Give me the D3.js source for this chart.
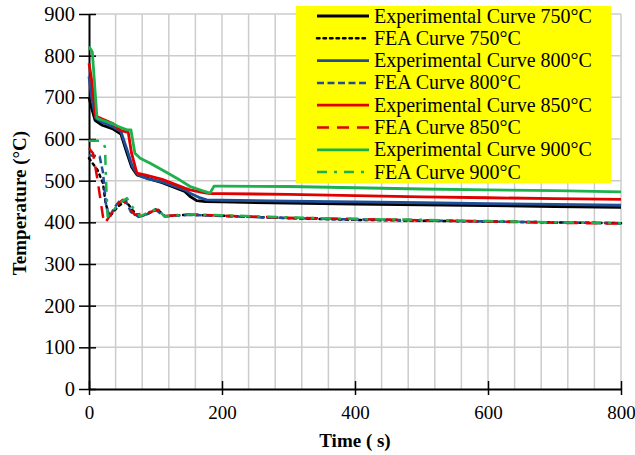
<!DOCTYPE html>
<html>
<head>
<meta charset="utf-8">
<script src="https://cdn.jsdelivr.net/npm/d3@7"></script>
<style>
body { margin: 0; background: #fff; }
text { font-family: "Liberation Serif", "Times New Roman", serif; }
</style>
</head>
<body>
<script>
var width = 635;
var height = 455;

// data (time in s, temperature in °C)
var tExp750 = [0,4,9,20,35,48,57,64,72,87,110,144,152,162,175,200,300,400,500,600,700,800];
var vExp750 = [700,674,645,633,625,612,566,533,514,506,495,474,462,452,450,449,446,444,442,440,438,436];

var tExp800 = [0,4,10,20,35,48,58,65,73,87,110,144,152,165,177,200,300,400,500,600,700,800];
var vExp800 = [750,700,650,640,630,618,570,535,515,505,497,478,470,460,454,453,451,449,447,445,443,441];

var tExp850 = [0,4,10,20,35,48,59,64,72,84,110,144,152,170,182,200,300,400,500,600,700,800];
var vExp850 = [782,742,655,648,638,620,616,566,518,514,503,482,478,472,469,469,467,464,461,459,457,455];

var tExp900 = [0,5,12,20,35,44,57,63,69,77,92,119,132,152,170,182,188,200,300,400,500,600,700,800];
var vExp900 = [822,809,650,645,637,630,622,622,566,554,542,518,506,486,476,470,487,487,486,483,480,478,476,473];

var tFea750 = [0,13,21,25,31,38,45,55,65,75,88,102,114,125,150,200,300,400,500,600,700,800];
var vFea750 = [554,525,494,446,413,428,440,452,430,413,420,432,415,416,418,416,410,406,404,402,400,398];

var tFea800 = [0,16,21,26,31,38,47,55,63,75,88,100,114,125,150,200,300,400,500,600,700,800];
var vFea800 = [561,558,520,437,413,435,453,452,425,413,420,430,414,416,418,415,410,407,405,402,400,398];

var tFea850 = [0,6,13,21,24,34,44,51,60,69,85,104,118,130,150,200,300,400,500,600,700,800];
var vFea850 = [578,566,500,414,398,422,445,454,435,418,422,430,415,417,419,416,411,408,405,402,399,397];

var tFea900 = [0,16,21,24,26,28,35,45,57,66,77,90,102,114,130,150,200,300,400,500,600,700,800];
var vFea900 = [596,596,590,581,486,414,425,445,458,435,414,425,432,414,416,419,417,412,408,406,403,400,398];

var xTicks = [0,200,400,600,800];
var yTicks = [0,100,200,300,400,500,600,700,800,900];

var series = [
  {name:"FEA Curve 750°C", t:tFea750, v:vFea750, color:"#000000", dash:"2.5,4", w:2.5, cap:"round"},
  {name:"FEA Curve 800°C", t:tFea800, v:vFea800, color:"#1f4e99", dash:"7,3.5", w:2.5, cap:"butt"},
  {name:"FEA Curve 850°C", t:tFea850, v:vFea850, color:"#e00000", dash:"12,8", w:2.5, cap:"butt"},
  {name:"FEA Curve 900°C", t:tFea900, v:vFea900, color:"#1cb14c", dash:"10,7,3,7", w:2.5, cap:"butt"},
  {name:"Experimental Curve 750°C", t:tExp750, v:vExp750, color:"#000000", dash:null, w:2.8, cap:"butt"},
  {name:"Experimental Curve 800°C", t:tExp800, v:vExp800, color:"#1f4e99", dash:null, w:2.8, cap:"butt"},
  {name:"Experimental Curve 850°C", t:tExp850, v:vExp850, color:"#e00000", dash:null, w:2.8, cap:"butt"},
  {name:"Experimental Curve 900°C", t:tExp900, v:vExp900, color:"#1cb14c", dash:null, w:2.8, cap:"butt"}
];

var legendOrder = [4,0,5,1,6,2,7,3];

var svg = d3.select("body")
  .append("svg")
  .attr("width", width)
  .attr("height", height);

var x = d3.scaleLinear().domain([0,800]).range([89,621]);
var y = d3.scaleLinear().domain([0,900]).range([389,14]);

// grid
svg.append("g").selectAll("line")
  .data(d3.range(40,801,40))
  .enter().append("line")
  .attr("x1", function(d){ return x(d); })
  .attr("x2", function(d){ return x(d); })
  .attr("y1", y(0)).attr("y2", y(900))
  .attr("stroke", "#cccccc").attr("stroke-width", 1.5);

svg.append("g").selectAll("line")
  .data(d3.range(100,901,100))
  .enter().append("line")
  .attr("x1", x(0)).attr("x2", x(800))
  .attr("y1", function(d){ return y(d); })
  .attr("y2", function(d){ return y(d); })
  .attr("stroke", "#cccccc").attr("stroke-width", 1.5);

// axes
var yAxis = svg.append("g")
  .attr("transform", "translate(" + x(0) + ",0)")
  .call(d3.axisLeft(y).tickValues(yTicks).tickSize(10).tickSizeOuter(0).tickPadding(4));
yAxis.selectAll(".tick line").attr("x1", 7);
yAxis.selectAll(".tick text").style("font-size", "20.5px");

var xAxis = svg.append("g")
  .attr("transform", "translate(0," + y(0) + ")")
  .call(d3.axisBottom(x).tickValues(xTicks).tickSize(6).tickSizeOuter(0).tickPadding(11));
xAxis.selectAll(".tick line").attr("y1", -8);
xAxis.selectAll(".tick text").style("font-size", "19px");

svg.selectAll(".domain").attr("stroke", "#000").attr("stroke-width", 2);
svg.selectAll(".tick line").attr("stroke", "#000").attr("stroke-width", 1.5);
svg.selectAll(".tick text")
  .attr("fill", "#000")
  .style("font-family", '"Liberation Serif", "Times New Roman", serif');

// curves
var line = d3.line()
  .x(function(d){ return x(d[0]); })
  .y(function(d){ return y(d[1]); });

series.forEach(function(s){
  var pts = s.t.map(function(t,i){ return [t, s.v[i]]; });
  var p = svg.append("path")
    .attr("d", line(pts))
    .attr("fill", "none")
    .attr("stroke", s.color)
    .attr("stroke-width", s.w)
    .attr("stroke-linecap", s.cap)
    .attr("stroke-linejoin", "round");
  if (s.dash) p.attr("stroke-dasharray", s.dash);
});

// legend
var lg = svg.append("g");
lg.append("rect")
  .attr("x", 296).attr("y", 6)
  .attr("width", 315).attr("height", 177)
  .attr("fill", "#ffff00");

legendOrder.forEach(function(k,i){
  var s = series[k];
  var cy = 16 + i*22.3;
  var l = lg.append("line")
    .attr("x1", 317).attr("x2", 369)
    .attr("y1", cy).attr("y2", cy)
    .attr("stroke", s.color)
    .attr("stroke-width", s.w)
    .attr("stroke-linecap", s.cap);
  if (s.dash) l.attr("stroke-dasharray", s.dash);
  lg.append("text")
    .attr("x", 374).attr("y", cy + 6.5)
    .style("font-size", "20px")
    .attr("fill", "#000")
    .text(s.name);
});

// axis titles
svg.append("text")
  .attr("x", 355).attr("y", 447)
  .attr("text-anchor", "middle")
  .style("font-size", "19px")
  .style("font-weight", "bold")
  .text("Time ( s)");

svg.append("text")
  .attr("transform", "translate(26," + 203 + ") rotate(-90)")
  .attr("text-anchor", "middle")
  .style("font-size", "19px")
  .style("font-weight", "bold")
  .text("Temperature (°C)");
</script>
</body>
</html>
